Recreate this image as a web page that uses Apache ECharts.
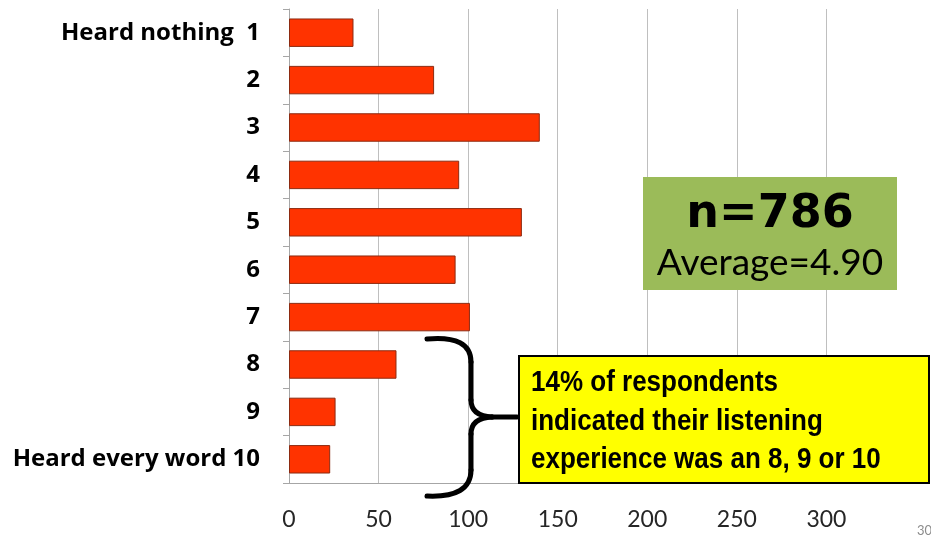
<!DOCTYPE html>
<html><head><meta charset="utf-8">
<script src="https://cdn.jsdelivr.net/npm/echarts@6/dist/echarts.min.js"></script>
<style>html,body{margin:0;padding:0;background:#fff;}#c{width:931px;height:539px;}</style>
</head><body><div id="c"></div>
<script>
var categories = ['Heard nothing  1','2','3','4','5','6','7','8','9','Heard every word 10'];
var counts = [36, 81, 140, 95, 130, 93, 101, 60, 26, 23];
var xTicks = [0, 50, 100, 150, 200, 250, 300, 350];
var boxTitle = 'n=786';
var boxSub = 'Average=4.90';
var noteLines = ['14% of respondents', 'indicated their listening', 'experience was an 8, 9 or 10'];

var braceStyle = {fill: 'none', stroke: '#000', lineWidth: 5, lineCap: 'round'};
function quad(x1, y1, cx, cy, x2, y2) {
  return {type: 'bezierCurve', shape: {x1: x1, y1: y1, cpx1: cx, cpy1: cy, x2: x2, y2: y2}, style: braceStyle, z: 100};
}
function seg(x1, y1, x2, y2) {
  return {type: 'line', shape: {x1: x1, y1: y1, x2: x2, y2: y2}, style: braceStyle, z: 100};
}
function noteText(i, y) {
  return {type: 'text', x: 531, y: y, scaleY: 1.12,
    style: {text: noteLines[i], fill: '#000', font: 'bold 26px "Liberation Sans", Arial, sans-serif', verticalAlign: 'middle'}, z: 101};
}

var chart = echarts.init(document.getElementById('c'), null, {renderer:'canvas'});
chart.setOption({
  animation: false,
  backgroundColor: '#ffffff',
  grid: {left: 289, right: 15, top: 9, bottom: 56, containLabel: false},
  xAxis: {
    type: 'value', min: xTicks[0], max: xTicks[xTicks.length-1], interval: 50,
    axisLine: {show: true, lineStyle: {color: '#a6a6a6', width: 1}},
    axisTick: {show: false},
    axisLabel: {show: true, showMaxLabel: false, margin: 25, color: '#262626', fontSize: 23, fontFamily: 'Lato, "Open Sans", sans-serif'},
    splitLine: {show: true, showMaxLine: false, lineStyle: {color: '#bfbfbf', width: 1}}
  },
  yAxis: {
    type: 'category', data: categories, inverse: true,
    axisLine: {show: true, lineStyle: {color: '#a6a6a6', width: 1}},
    axisTick: {show: true, length: 6, lineStyle: {color: '#a6a6a6'}},
    axisLabel: {margin: 29, color: '#000', fontSize: 24, fontWeight: 'bold', fontFamily: '"Open Sans", Lato, sans-serif'}
  },
  series: [{
    type: 'bar', data: counts, barCategoryGap: '40%',
    itemStyle: {color: '#ff3300', borderColor: '#8c2a10', borderWidth: 1}
  }],
  graphic: [
    {type: 'rect', shape: {x: 643, y: 177, width: 254, height: 113}, style: {fill: '#9bbb59'}, z: 100},
    {type: 'text', x: 770, y: 215, style: {text: boxTitle, fill: '#000', font: 'bold 46px "DejaVu Sans", sans-serif', align: 'center', verticalAlign: 'middle'}, z: 101},
    {type: 'text', x: 770, y: 263, style: {text: boxSub, fill: '#000', font: '37px Lato, "Open Sans", sans-serif', align: 'center', verticalAlign: 'middle'}, z: 101},
    {type: 'rect', shape: {x: 519, y: 356, width: 410, height: 127}, style: {fill: '#ffff00', stroke: '#000', lineWidth: 2}, z: 100},
    noteText(0, 383),
    noteText(1, 422),
    noteText(2, 460),
    quad(427, 339, 471, 335, 471, 362),
    seg(471, 362, 471, 400),
    quad(471, 400, 471, 416, 492, 417),
    seg(492, 417, 517, 417),
    quad(492, 417, 471, 418, 471, 434),
    seg(471, 434, 471, 470),
    quad(471, 470, 471, 498, 427, 496),
    {type: 'text', x: 917, y: 531, style: {text: '30', fill: '#8c8c8c', font: '13px Lato, sans-serif', verticalAlign: 'middle'}, z: 101}
  ]
});
</script></body></html>
